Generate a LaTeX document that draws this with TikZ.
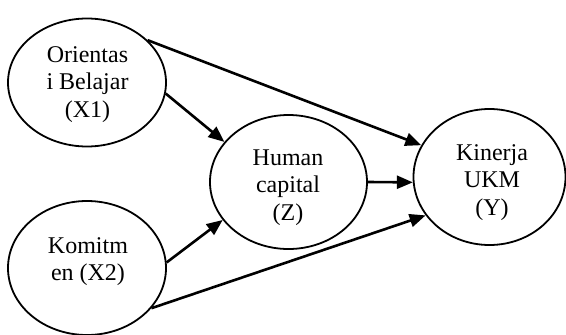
\documentclass[tikz,border=0pt]{standalone}
\usepackage{fontspec}
\setmainfont{Liberation Serif}
\usetikzlibrary{shapes.geometric,arrows.meta}
\begin{document}
\begin{tikzpicture}[x=1pt,y=-1pt,
  ell/.style={draw,ellipse,line width=1.8pt,inner sep=0pt},
  lbl/.style={anchor=base,inner sep=0pt,font=\fontsize{24}{27.5}\selectfont},
  arr/.style={line width=2.6pt,-{Triangle[length=16pt,width=13pt]}}]
\useasboundingbox (0,0) rectangle (566,335);
\node[ell,minimum width=158pt,minimum height=128pt] (x1) at (87,82.5) {};
\node[ell,minimum width=158pt,minimum height=134pt] (x2) at (87,268) {};
\node[ell,minimum width=157pt,minimum height=134pt] (z) at (288.5,182) {};
\node[ell,minimum width=152pt,minimum height=136pt] (y) at (489.5,177) {};
\node[lbl] (x1t) at (87.5,62) {\begin{tabular}[t]{@{}c@{}}Orientas\\i Belajar\\(X1)\end{tabular}};
\node[lbl] (x2t) at (88,253) {\begin{tabular}[t]{@{}c@{}}Komitm\\en (X2)\end{tabular}};
\node[lbl] (zt) at (288,165) {\begin{tabular}[t]{@{}c@{}}Human\\capital\\(Z)\end{tabular}};
\node[lbl] (yt) at (492,160) {\begin{tabular}[t]{@{}c@{}}Kinerja\\UKM\\(Y)\end{tabular}};
\draw[arr] (x1.35) -- (y.155);
\draw[arr] (x1.-8) -- (z.148);
\draw[arr] (x2.4) -- (z.210);
\draw[arr] (x2.-32) -- (y.211);
\draw[arr] (z.0) -- (y.184);
\end{tikzpicture}
\end{document}
